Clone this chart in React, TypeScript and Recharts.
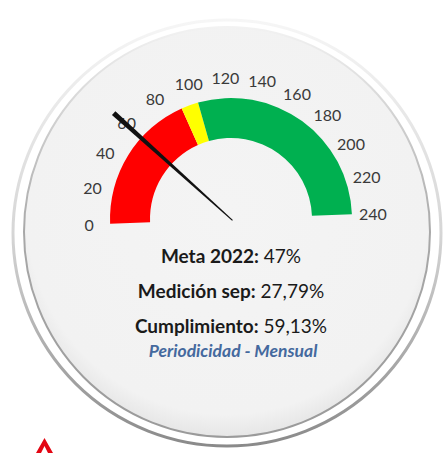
import React from 'react';
import { RadialBarChart, RadialBar, PolarAngleAxis, PolarRadiusAxis } from 'recharts';

// ---- data ----
const bandNames = ['Rojo', 'Amarillo', 'Verde'];
const bandValues = [91, 11, 138];
const bandColors = ['#ff0000', '#ffff00', '#00b050'];
const gaugeDomain = [0, 240];
const tickValues = [0, 20, 40, 60, 80, 100, 120, 140, 160, 180, 200, 220, 240];
const needleValue = 59.13;

const lineLabels = ['Meta 2022', 'Medición sep', 'Cumplimiento'];
const lineValues = ['47%', '27,79%', '59,13%'];
const footerText = 'Periodicidad - Mensual';

// ---- build tables ----
const gaugeRow: Record<string, number | string> = { name: 'gauge' };
bandNames.forEach((n, i) => {
  gaugeRow[n] = bandValues[i];
});
const gaugeData = [gaugeRow];
const needleData = [{ name: 'needle', value: needleValue }];

const W = 444;
const H = 453;
const CX = 231;
const CY = 219;
const TILT = 2.3;
const START = 180 + TILT;
const END = 0 + TILT;
const INNER = 81;
const OUTER = 121;
const FONT = 'Lato, "Open Sans", sans-serif';

const TickLabel = (props: any) => {
  const { x, y, payload } = props;
  return (
    <text
      x={x}
      y={y}
      textAnchor="middle"
      dominantBaseline="central"
      fontFamily={FONT}
      fontSize={16}
      fill="#3a3a3a"
    >
      {payload.value}
    </text>
  );
};

const Needle = (props: any) => {
  const { cx, cy, endAngle } = props;
  const rad = (-endAngle * Math.PI) / 180;
  const len = 158;
  const ux = Math.cos(rad);
  const uy = Math.sin(rad);
  const px = -uy;
  const py = ux;
  const bx = cx - ux * 2;
  const by = cy - uy * 2;
  const tx = cx + ux * len;
  const ty = cy + uy * len;
  const wb = 0.6;
  const wt = 2.6;
  const d = `M${bx + px * wb},${by + py * wb} L${tx + px * wt},${ty + py * wt} L${tx - px * wt},${ty - py * wt} L${bx - px * wb},${by - py * wb} Z`;
  return <path d={d} fill="#111111" />;
};

const layer: React.CSSProperties = { position: 'absolute', left: 0, top: 0, width: W, height: H };

export default function App() {
  const textYs = [263, 298, 333];
  return (
    <div style={{ position: 'absolute', left: 0, top: 0, width: W, height: H, background: '#ffffff', overflow: 'hidden' }}>
      <svg width={W} height={H} style={layer}>
        <defs>
          <linearGradient id="rimOuter" x1="0" y1="0" x2="0" y2="1">
            <stop offset="0" stopColor="#f6f6f6" />
            <stop offset="0.5" stopColor="#d6d6d6" />
            <stop offset="1" stopColor="#8a8a8a" />
          </linearGradient>
          <linearGradient id="rimInner" x1="0" y1="0" x2="0" y2="1">
            <stop offset="0" stopColor="#f2f2f2" />
            <stop offset="0.5" stopColor="#a8a8a8" />
            <stop offset="1" stopColor="#9a9a9a" />
          </linearGradient>
          <radialGradient id="face" cx="0.5" cy="0.45" r="0.55">
            <stop offset="0" stopColor="#f4f4f4" />
            <stop offset="0.9" stopColor="#f2f2f2" />
            <stop offset="1" stopColor="#e6e6e6" />
          </radialGradient>
        </defs>
        <ellipse cx={227} cy={233} rx={214} ry={213} fill="#ffffff" stroke="url(#rimOuter)" strokeWidth={3} />
        <ellipse cx={227} cy={232} rx={203} ry={205} fill="url(#face)" stroke="url(#rimInner)" strokeWidth={2} />
        <path d="M44.5 438 L36 453 L41 453 L44.5 446 L48 453 L53 453 Z" fill="#e30613" />
      </svg>

      <div style={layer}>
        <RadialBarChart
          width={W}
          height={H}
          cx={CX}
          cy={CY}
          innerRadius={INNER}
          outerRadius={OUTER}
          startAngle={START}
          endAngle={END}
          data={gaugeData}
          barCategoryGap={0}
          barGap={0}
          margin={{ top: 0, right: 0, bottom: 0, left: 0 }}
        >
          <PolarAngleAxis
            type="number"
            domain={gaugeDomain}
            ticks={tickValues}
            tickCount={tickValues.length}
            axisLine={false}
            tickLine={false}
            tickSize={21}
            tick={<TickLabel />}
          />
          <PolarRadiusAxis type="category" tick={false} axisLine={false} />
          {bandNames.map((n, i) => (
            <RadialBar key={n} dataKey={n} stackId="g" fill={bandColors[i]} isAnimationActive={false} />
          ))}
        </RadialBarChart>
      </div>

      <div style={layer}>
        <RadialBarChart
          width={W}
          height={H}
          cx={CX}
          cy={CY}
          innerRadius={INNER}
          outerRadius={OUTER}
          startAngle={START}
          endAngle={END}
          data={needleData}
          barCategoryGap={0}
          margin={{ top: 0, right: 0, bottom: 0, left: 0 }}
        >
          <PolarAngleAxis type="number" domain={gaugeDomain} tick={false} axisLine={false} tickLine={false} />
          <PolarRadiusAxis type="category" tick={false} axisLine={false} />
          <RadialBar dataKey="value" fill="none" shape={<Needle />} isAnimationActive={false} />
        </RadialBarChart>
      </div>

      <svg width={W} height={H} style={{ ...layer, pointerEvents: 'none' }}>
        {lineLabels.map((l, i) => (
          <text
            key={l}
            x={231}
            y={textYs[i]}
            textAnchor="middle"
            fontFamily={FONT}
            fontSize={19}
            fill="#1a1a1a"
          >
            <tspan fontWeight="bold">{l}:</tspan>
            <tspan> {lineValues[i]}</tspan>
          </text>
        ))}
        <text
          x={233}
          y={357}
          textAnchor="middle"
          fontFamily={FONT}
          fontSize={17.5}
          fontWeight="bold"
          fontStyle="italic"
          fill="#44699e"
        >
          {footerText}
        </text>
      </svg>
    </div>
  );
}
